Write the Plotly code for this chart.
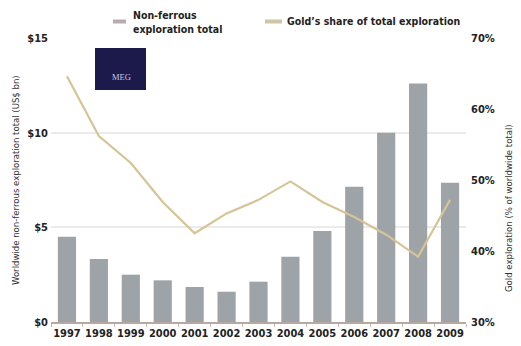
import plotly.graph_objects as go

years = ["1997", "1998", "1999", "2000", "2001", "2002", "2003",
         "2004", "2005", "2006", "2007", "2008", "2009"]
nonferrous_bn = [4.5, 3.33, 2.5, 2.2, 1.85, 1.6, 2.13, 3.45, 4.8, 7.15, 10.0, 12.6, 7.35]
gold_share_pct = [64.6, 56.2, 52.4, 46.9, 42.5, 45.3, 47.2, 49.8, 46.9, 44.8, 42.3, 39.2, 47.2]
left_ticks = [0, 5, 10, 15]
left_labels = ["$0", "$5", "$10", "$15"]
right_ticks = [30, 40, 50, 60, 70]
right_labels = ["30%", "40%", "50%", "60%", "70%"]

FONT = "DejaVu Sans Condensed, Liberation Sans Narrow, sans-serif"
BAR_C = "#9ea3a8"
LINE_C = "#d6c496"

L, R, T, B = 51, 55, 38, 24
W, H = 521, 346
PW, PH = W - L - R, H - T - B


def px(x):
    return (x - L) / PW


def py(y):
    return (H - B - y) / PH


fig = go.Figure()
fig.add_trace(go.Bar(x=years, y=nonferrous_bn, marker_color=BAR_C, marker_line_width=0,
                     name="Non-ferrous exploration total", yaxis="y"))
fig.add_trace(go.Scatter(x=years, y=gold_share_pct, mode="lines",
                         line=dict(color=LINE_C, width=2.2),
                         name="Gold's share of total exploration", yaxis="y2"))

fig.update_layout(
    width=W, height=H,
    margin=dict(l=L, r=R, t=T, b=B, autoexpand=False),
    paper_bgcolor="white", plot_bgcolor="white",
    showlegend=False, bargap=0.43,
    font=dict(family=FONT, color="#222"),
    xaxis=dict(type="category", tickvals=years, ticktext=["<b>%s</b>" % y for y in years],
               tickangle=0, automargin=False,
               tickfont=dict(size=11, family=FONT, color="#222"),
               showgrid=False, showline=True, linecolor="#b8a8a0", linewidth=1.5,
               ticks="outside", ticklen=3, tickcolor="#c8b8b0", tickson="boundaries"),
    yaxis=dict(range=[0, 15], tickvals=left_ticks,
               ticktext=["<b>%s</b>" % t for t in left_labels], automargin=False,
               tickfont=dict(size=11, color="#222"), showgrid=True,
               gridcolor="#ebebeb", gridwidth=1.5, zeroline=False, ticklabelstandoff=2),
    yaxis2=dict(range=[30, 70], tickvals=right_ticks,
                ticktext=["<b>%s</b>" % t for t in right_labels], automargin=False,
                overlaying="y", side="right", showgrid=False, zeroline=False,
                tickfont=dict(size=11, color="#222"), ticklabelstandoff=4),
)

# Axis titles
fig.add_annotation(xref="paper", yref="paper", x=px(15), y=py(180), textangle=-90,
                   xanchor="center", yanchor="middle",
                   showarrow=False, text="Worldwide non-ferrous exploration total (US$ bn)",
                   font=dict(size=9.5, color="#333", family=FONT))
fig.add_annotation(xref="paper", yref="paper", x=px(508), y=py(208), textangle=-90,
                   xanchor="center", yanchor="middle",
                   showarrow=False, text="Gold exploration (% of worldwide total)",
                   font=dict(size=9.5, color="#333", family=FONT))

# Legend (manual)
fig.add_shape(type="line", xref="paper", yref="paper", x0=px(113), x1=px(126),
              y0=py(21.5), y1=py(21.5), line=dict(color="#b9aab2", width=4))
fig.add_annotation(xref="paper", yref="paper", x=px(131), y=py(22),
                   xanchor="left", yanchor="middle", align="left", showarrow=False,
                   text="<b>Non-ferrous<br>exploration total</b>",
                   font=dict(size=10.5, color="#222", family=FONT))
fig.add_shape(type="line", xref="paper", yref="paper", x0=px(265), x1=px(282),
              y0=py(21.5), y1=py(21.5), line=dict(color="#cfc3a8", width=4))
fig.add_annotation(xref="paper", yref="paper", x=px(285), y=py(21),
                   xanchor="left", yanchor="middle", align="left", showarrow=False,
                   text="<b>Gold\u2019s share of total exploration</b>",
                   font=dict(size=10.5, color="#222", family=FONT))

# MEG logo box
fig.add_shape(type="rect", xref="paper", yref="paper",
              x0=px(95), x1=px(146), y0=py(90), y1=py(48),
              fillcolor="#1c1a4a", line=dict(width=0))
fig.add_annotation(xref="paper", yref="paper", x=px(121), y=py(77),
                   xanchor="center", yanchor="middle",
                   showarrow=False, text="MEG",
                   font=dict(size=8.5, color="#c8c8e0", family="Liberation Serif, DejaVu Serif, serif"))

fig.write_html("out.html", config={"displayModeBar": False},
               post_script="document.body.style.margin='0';document.body.style.padding='0';")
